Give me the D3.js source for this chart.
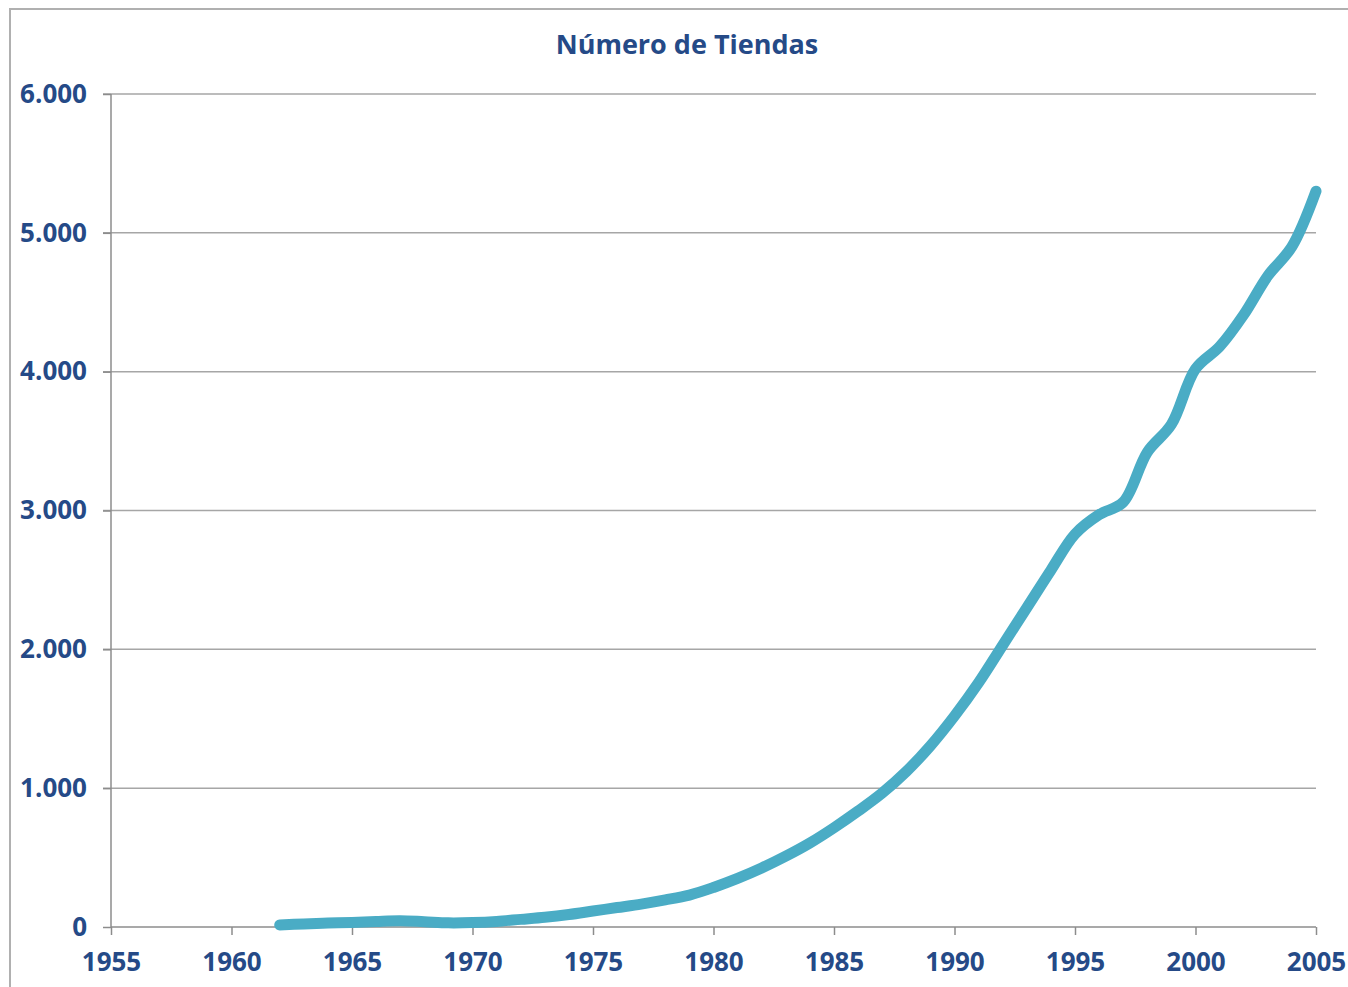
<!DOCTYPE html>
<html>
<head>
    <meta charset="UTF-8">
    <style>
        body { margin: 0; background: #fff; }
        text { font-family: "Open Sans", Lato, sans-serif; font-weight: bold; fill: #254a87; }
    </style>
</head>
<body>
    <svg></svg>
    <script src="https://d3js.org/d3.v7.min.js"></script>
    <script>
        let width = 1348, height = 987;

        // data
        const years = [1962, 1963, 1964, 1965, 1966, 1967, 1968, 1969, 1970, 1971,
            1972, 1973, 1974, 1975, 1976, 1977, 1978, 1979, 1980, 1981,
            1982, 1983, 1984, 1985, 1986, 1987, 1988, 1989, 1990, 1991,
            1992, 1993, 1994, 1995, 1996, 1997, 1998, 1999, 2000, 2001,
            2002, 2003, 2004, 2005];
        const stores = [15, 22, 28, 33, 40, 45, 38, 30, 32, 40,
            55, 70, 90, 115, 140, 165, 195, 230, 285, 350,
            425, 510, 605, 715, 835, 965, 1120, 1305, 1520, 1760,
            2030, 2300, 2570, 2830, 2970, 3060, 3420, 3620, 4020, 4180,
            4410, 4690, 4900, 5300];
        const xTicks = [1955, 1960, 1965, 1970, 1975, 1980, 1985, 1990, 1995, 2000, 2005];
        const yTicks = [0, 1000, 2000, 3000, 4000, 5000, 6000];
        const title = "Número de Tiendas";

        let svg = d3.select("svg")
            .attr("width", width)
            .attr("height", height);

        // outer chart border (runs off the right and bottom edges)
        svg.append("rect")
            .attr("x", 10).attr("y", 9)
            .attr("width", 1400).attr("height", 1000)
            .attr("fill", "none")
            .attr("stroke", "#b0b0b0")
            .attr("stroke-width", 2);

        const x = d3.scaleLinear().domain([1955, 2005]).range([111, 1316]);
        const y = d3.scaleLinear().domain([0, 6000]).range([927, 94]);

        const locale = d3.formatLocale({ decimal: ",", thousands: ".", grouping: [3], currency: ["", "€"] });
        const fmt = locale.format(",d");

        // gridlines
        svg.append("g")
            .selectAll("line")
            .data(yTicks.slice(1))
            .enter()
            .append("line")
            .attr("x1", 103).attr("x2", 1316)
            .attr("y1", d => y(d)).attr("y2", d => y(d))
            .attr("stroke", "#a6a6a6")
            .attr("stroke-width", 1.5);

        // y axis
        let yAxis = svg.append("g")
            .attr("transform", "translate(111,0)")
            .call(d3.axisLeft(y).tickValues(yTicks).tickFormat(fmt).tickSize(8).tickPadding(16));

        // x axis
        let xAxis = svg.append("g")
            .attr("transform", "translate(0,927)")
            .call(d3.axisBottom(x).tickValues(xTicks).tickFormat(d3.format("d")).tickSize(8).tickPadding(18));

        [yAxis, xAxis].forEach(ax => {
            ax.select(".domain").attr("stroke", "#8c8c8c").attr("stroke-width", 1.5);
            ax.selectAll(".tick line").attr("stroke", "#8c8c8c").attr("stroke-width", 1.5);
            ax.selectAll(".tick text")
                .attr("fill", "#254a87")
                .style("font-family", "'Open Sans', Lato, sans-serif")
                .style("font-weight", "bold")
                .style("font-size", "26px");
        });
        yAxis.select(".domain").attr("d", "M0,927V94");
        xAxis.select(".domain").attr("d", "M111,0H1316");

        // line
        const line = d3.line()
            .x((d, i) => x(years[i]))
            .y(d => y(d))
            .curve(d3.curveCatmullRom.alpha(0.5));

        svg.append("path")
            .datum(stores)
            .attr("d", line)
            .attr("fill", "none")
            .attr("stroke", "#4aacc5")
            .attr("stroke-width", 11)
            .attr("stroke-linecap", "round")
            .attr("stroke-linejoin", "round");

        // title
        svg.append("text")
            .attr("x", 687)
            .attr("y", 54)
            .attr("text-anchor", "middle")
            .style("font-size", "27px")
            .text(title);
    </script>
</body>
</html>
